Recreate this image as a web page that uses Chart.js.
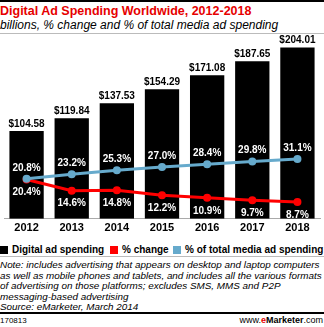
<!DOCTYPE html>
<html>
<head>
<meta charset="utf-8">
<script src="https://cdn.jsdelivr.net/npm/chart.js@4"></script>
<style>
  body { margin: 0; background: #fff; }
  #wrap { position: relative; width: 324px; height: 327px; overflow: hidden; font-family: "Liberation Sans", Arial, sans-serif; }
  .rule { position: absolute; left: 0; width: 324px; }
  #title { position: absolute; left: 0; top: 4px; font-size: 12.5px; font-weight: bold; color: #e60000; white-space: nowrap; }
  #sub { position: absolute; left: 0; top: 18px; font-size: 12px; font-style: italic; color: #000; white-space: nowrap; }
  #chartBox { position: absolute; left: 0; top: 34px; width: 324px; height: 208px; }
  .lg { position: absolute; top: 244px; font-size: 10px; font-weight: bold; color: #000; white-space: nowrap; line-height: 12px; }
  .lg i { display: inline-block; width: 8px; height: 8px; margin-right: 4px; vertical-align: -1px; }
  #note { position: absolute; left: 0; top: 260px; width: 324px; font-size: 9.9px; line-height: 10.5px; font-style: italic; color: #000; white-space: nowrap; }
  #id { position: absolute; left: 0; top: 316px; font-size: 8px; color: #000; }
  #site { position: absolute; right: 1px; top: 315px; font-size: 9px; color: #000; }
</style>
</head>
<body>
<div id="wrap">
  <div class="rule" style="top:0;height:2px;background:#000"></div>
  <div id="title">Digital Ad Spending Worldwide, 2012-2018</div>
  <div id="sub">billions, % change and % of total media ad spending</div>
  <div class="rule" style="top:33px;height:1px;background:#bbb"></div>
  <div id="chartBox"><canvas id="chart"></canvas></div>
  <div class="lg" style="left:0"><i style="background:#000"></i>Digital ad spending</div>
  <div class="lg" style="left:110px"><i style="background:#ff0000"></i>% change</div>
  <div class="lg" style="left:173px"><i style="background:#66aacc"></i>% of total media ad spending</div>
  <div class="rule" style="top:256px;height:1px;background:#bbb"></div>
  <div id="note">Note: includes advertising that appears on desktop and laptop computers<br>as well as mobile phones and tablets, and includes all the various formats<br>of advertising on those platforms; excludes SMS, MMS and P2P<br>messaging-based advertising<br>Source: eMarketer, March 2014</div>
  <div class="rule" style="top:312px;height:2px;background:#000"></div>
  <div id="id">170813</div>
  <div id="site">www.<b style="color:#e60000">e</b><b>Marketer</b>.com</div>
</div>
<script>
var years = ["2012", "2013", "2014", "2015", "2016", "2017", "2018"];
var adSpending = [104.58, 119.84, 137.53, 154.29, 171.08, 187.65, 204.01];
var pctChange = [20.4, 14.6, 14.8, 12.2, 10.9, 9.7, 8.7];
var pctOfTotal = [20.8, 23.2, 25.3, 27.0, 28.4, 29.8, 31.1];

var labelPlugin = {
    id: 'valueLabels',
    afterDatasetsDraw: function(chart) {
        var ctx = chart.ctx;
        ctx.save();
        ctx.textAlign = 'center';
        ctx.textBaseline = 'middle';
        ctx.font = 'bold 10px "Liberation Sans", Arial, sans-serif';
        chart.data.datasets.forEach(function(ds, i) {
            var meta = chart.getDatasetMeta(i);
            meta.data.forEach(function(el, j) {
                var v = ds.data[j];
                if (ds.type === 'bar') {
                    ctx.fillStyle = '#000';
                    ctx.fillText('$' + v.toFixed(2), el.x, el.y - 7);
                } else if (i === 1) {
                    ctx.fillStyle = '#fff';
                    ctx.fillText(v.toFixed(1) + '%', el.x, el.y + 13);
                } else {
                    ctx.fillStyle = '#fff';
                    ctx.fillText(v.toFixed(1) + '%', el.x, el.y - 11);
                }
            });
        });
        ctx.restore();
    }
};

new Chart(document.getElementById("chart"), {
    type: 'bar',
    data: {
        labels: years,
        datasets: [
            {
                type: 'bar',
                label: "Digital ad spending",
                data: adSpending,
                backgroundColor: "#000",
                yAxisID: 'y',
                categoryPercentage: 1,
                barPercentage: 0.76,
                order: 3
            },
            {
                type: 'line',
                label: "% change",
                data: pctChange,
                borderColor: "#ff0000",
                backgroundColor: "#ff0000",
                borderWidth: 3,
                pointRadius: 4,
                pointBorderWidth: 0,
                yAxisID: 'y1',
                order: 2
            },
            {
                type: 'line',
                label: "% of total media ad spending",
                data: pctOfTotal,
                borderColor: "#66aacc",
                backgroundColor: "#66aacc",
                borderWidth: 3,
                pointRadius: 4,
                pointBorderWidth: 0,
                yAxisID: 'y1',
                order: 1
            }
        ]
    },
    options: {
        responsive: true,
        maintainAspectRatio: false,
        animation: false,
        layout: { padding: { top: 6, left: 1, right: 1, bottom: 4 } },
        scales: {
            x: {
                grid: { display: false, drawTicks: false, tickLength: 0 },
                border: { color: '#aaa' },
                ticks: {
                    color: '#000',
                    padding: 3,
                    font: { family: '"Liberation Sans", Arial, sans-serif', size: 11, weight: 'bold' }
                }
            },
            y: { display: false, min: 0, max: 213 },
            y1: { display: false, min: 0, max: 93 }
        },
        plugins: {
            tooltip: { enabled: false },
            legend: { display: false }
        }
    },
    plugins: [labelPlugin]
});
</script>
</body>
</html>
